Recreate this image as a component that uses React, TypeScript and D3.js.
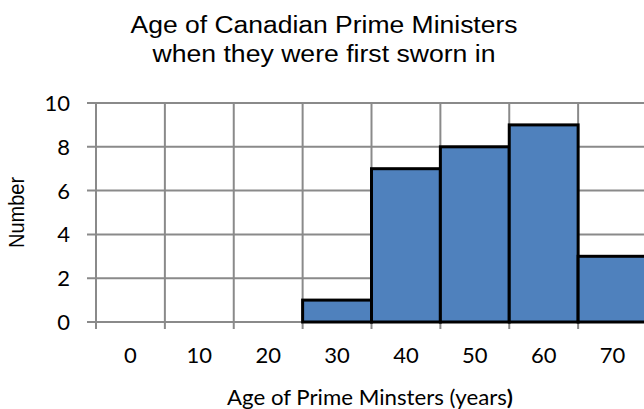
import React from "react";
import * as d3 from "d3";

const categories = ["0", "10", "20", "30", "40", "50", "60", "70"];
const counts = [0, 0, 0, 1, 7, 8, 9, 3];
const yTicks = [0, 2, 4, 6, 8, 10];
const titleLines = ["Age of Canadian Prime Ministers", "when they were first sworn in"];
const xTitle = "Age of Prime Minsters (years";
const yTitle = "Number";

const W = 644;
const H = 409;

export default function App() {
  const x = d3.scaleBand<string>().domain(categories).range([96, 647]).paddingInner(0).paddingOuter(0);
  const y = d3.scaleLinear().domain([0, 10]).range([322, 103]);
  const bw = x.bandwidth();
  const grid = "#8a8a8a";
  const calibri = "Lato, 'Open Sans', sans-serif";
  const arial = "'Liberation Sans', Arial, sans-serif";
  const boundaries = categories.map((c) => x(c) as number);
  boundaries.push((x(categories[categories.length - 1]) as number) + bw);

  return (
    <svg
      width={W}
      height={H}
      style={{ position: "absolute", left: 0, top: 0, background: "#fff" }}
    >
      <rect x={0} y={0} width={W} height={H} fill="#fff" />
      {/* title */}
      <text x={324} y={33.3} textAnchor="middle" fontFamily={arial} fontSize={23.5} fill="#000" textLength={387} lengthAdjust="spacingAndGlyphs">
        {titleLines[0]}
      </text>
      <text x={324} y={61.7} textAnchor="middle" fontFamily={arial} fontSize={23.5} fill="#000" textLength={343} lengthAdjust="spacingAndGlyphs">
        {titleLines[1]}
      </text>

      {/* horizontal gridlines */}
      {yTicks.map((t) => (
        <line key={"h" + t} x1={87} x2={W + 10} y1={y(t)} y2={y(t)} stroke={grid} strokeWidth={2} />
      ))}
      {/* vertical gridlines */}
      {boundaries.map((b, i) => (
        <line key={"v" + i} x1={b} x2={b} y1={y(10)} y2={y(0) + 7} stroke={grid} strokeWidth={2} />
      ))}

      {/* bars */}
      {categories.map((c, i) =>
        counts[i] > 0 ? (
          <rect
            key={"b" + c}
            x={x(c) as number}
            y={y(counts[i])}
            width={bw}
            height={y(0) - y(counts[i])}
            fill="#4F81BD"
            stroke="#000"
            strokeWidth={3}
          />
        ) : null
      )}

      {/* y tick labels */}
      {yTicks.map((t) => (
        <text key={"yl" + t} x={70} y={y(t)} dy="0.36em" textAnchor="end" fontFamily={calibri} fontSize={22} fill="#000">
          {t}
        </text>
      ))}
      {/* x tick labels */}
      {categories.map((c) => (
        <text key={"xl" + c} x={(x(c) as number) + bw / 2} y={363} textAnchor="middle" fontFamily={calibri} fontSize={22} fill="#000">
          {c}
        </text>
      ))}

      {/* x title */}
      <text x={370} y={405} textAnchor="middle" fontFamily={calibri} fontSize={21.5} fill="#000" textLength={286} lengthAdjust="spacingAndGlyphs">
        <tspan>{xTitle}</tspan>
        <tspan fontWeight="bold">)</tspan>
      </text>

      {/* y title */}
      <text
        transform={`translate(24, ${(y(0) + y(10)) / 2}) scale(1.13,1) rotate(-90)`}
        textAnchor="middle"
        fontFamily={arial}
        fontSize={20}
        fill="#000"
      >
        {yTitle}
      </text>
    </svg>
  );
}
